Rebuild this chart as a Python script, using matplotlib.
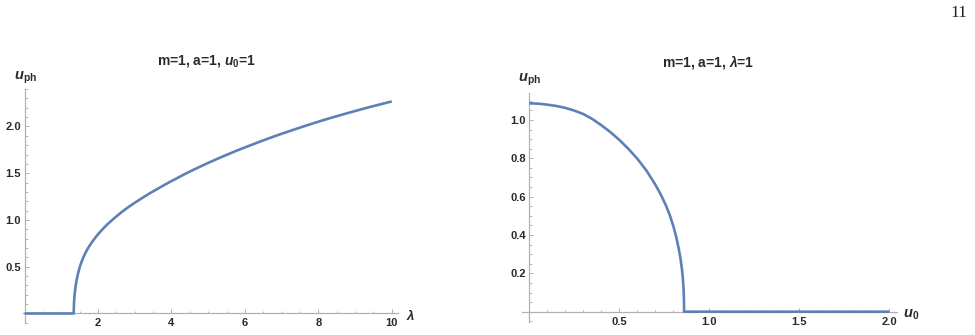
import numpy as np
import matplotlib

matplotlib.use("Agg")

import matplotlib.pyplot as plt
from matplotlib.ticker import FixedLocator

plt.rcParams["font.family"] = ["Liberation Sans", "DejaVu Sans"]
plt.rcParams["mathtext.fontset"] = "custom"
plt.rcParams["mathtext.rm"] = "Liberation Sans"
plt.rcParams["mathtext.bf"] = "Liberation Sans:bold"
plt.rcParams["mathtext.it"] = "Liberation Sans:italic"
plt.rcParams["mathtext.bfit"] = "Liberation Sans:bold:italic"

# left panel: u_ph vs lambda (m=1, a=1, u0=1)
lam = [0.0, 1.34, 1.341, 1.345, 1.35, 1.36, 1.37, 1.385, 1.40, 1.42, 1.445,
       1.475, 1.51, 1.55, 1.60, 1.65, 1.70, 1.76, 1.83, 1.90, 1.98, 2.06, 2.15,
       2.25, 2.35, 2.5, 2.65, 2.8, 3.0, 3.2, 3.4, 3.6, 3.8, 4.0, 4.2, 4.4, 4.6,
       4.8, 5.0, 5.25, 5.5, 5.75, 6.0, 6.25, 6.5, 6.75, 7.0, 7.25, 7.5, 7.75,
       8.0, 8.25, 8.5, 8.75, 9.0, 9.25, 9.5, 9.75, 10.0]
u_lam = [0.0, 0.0, 0.045, 0.095, 0.134, 0.188, 0.229, 0.277, 0.316, 0.361, 0.409,
         0.457, 0.504, 0.550, 0.599, 0.641, 0.679, 0.718, 0.759, 0.797, 0.837, 0.873,
         0.912, 0.951, 0.987, 1.038, 1.086, 1.130, 1.184, 1.234, 1.283, 1.328, 1.373,
         1.416, 1.457, 1.498, 1.537, 1.574, 1.610, 1.654, 1.696, 1.737, 1.776, 1.814,
         1.851, 1.887, 1.922, 1.955, 1.988, 2.020, 2.051, 2.081, 2.110, 2.138, 2.165,
         2.192, 2.218, 2.243, 2.268]

# right panel: u_ph vs u0 (m=1, a=1, lambda=1)
u0 = [0.0, 0.05, 0.1, 0.15, 0.2, 0.25, 0.3, 0.35, 0.4, 0.45, 0.5, 0.55, 0.6,
      0.65, 0.7, 0.73, 0.76, 0.78, 0.8, 0.815, 0.83, 0.84, 0.848, 0.853, 0.857,
      0.859, 0.86, 2.0]
u_u0 = [1.087, 1.085, 1.080, 1.073, 1.063, 1.049, 1.031, 1.005, 0.973, 0.937,
        0.896, 0.85, 0.798, 0.737, 0.663, 0.612, 0.552, 0.505, 0.447, 0.395, 0.330,
        0.277, 0.222, 0.175, 0.12, 0.07, 0.0, 0.0]

line_color = "#5e81b5"
axis_color = "#b0b0b0"
label_color = "#2a2a2a"

W, H = 975, 335


def mathematica_axes(ax, xlim, ylim, xbounds, ybounds, xmajor, xminor, ymajor, yminor):
    ax.set_xlim(*xlim)
    ax.set_ylim(*ylim)
    for side in ("top", "right"):
        ax.spines[side].set_visible(False)
    ax.spines["left"].set_position(("data", 0))
    ax.spines["bottom"].set_position(("data", 0))
    ax.spines["left"].set_bounds(*ybounds)
    ax.spines["bottom"].set_bounds(*xbounds)
    for side in ("left", "bottom"):
        ax.spines[side].set_color(axis_color)
        ax.spines[side].set_linewidth(0.9)
    ax.xaxis.set_major_locator(FixedLocator(xmajor))
    ax.xaxis.set_minor_locator(FixedLocator(xminor))
    ax.yaxis.set_major_locator(FixedLocator(ymajor))
    ax.yaxis.set_minor_locator(FixedLocator(yminor))
    ax.tick_params(which="major", direction="in", length=3.2, width=0.7, color=axis_color,
                   labelsize=8, labelcolor=label_color)
    ax.tick_params(which="minor", direction="in", length=1.8, width=0.6, color=axis_color)
    ax.tick_params(axis="x", which="major", pad=3.5)
    ax.tick_params(axis="y", which="major", pad=2.5)
    for lab in ax.get_xticklabels() + ax.get_yticklabels():
        lab.set_fontweight("bold")
    ax.patch.set_alpha(0)


fig = plt.figure(figsize=(W / 100, H / 100), dpi=100)

ax1 = fig.add_axes([17.2 / W, (H - 324.7) / H, 385.6 / W, 237.5 / H])
ax1.plot(lam, u_lam, color=line_color, linewidth=1.9, zorder=3, clip_on=False,
         solid_capstyle="butt", solid_joinstyle="round")
mathematica_axes(ax1, (-0.2, 10.3), (-0.12, 2.42), (-0.04, 10.17), (-0.1, 2.40),
                 [2, 4, 6, 8, 10], np.arange(0.5, 10.01, 0.5),
                 [0.5, 1.0, 1.5, 2.0], np.arange(-0.1, 2.41, 0.1))
ax1.xaxis.set_major_formatter(lambda v, p: f"{v:.0f}")
ax1.yaxis.set_major_formatter(lambda v, p: f"{v:.1f}")
ax1.text(0.03, 2.52, r"$\mathbfit{u}_{\mathbf{ph}}$", fontsize=10.5, ha="center", va="center",
         color=label_color, clip_on=False)
ax1.text(10.52, -0.02, r"$\mathbfit{\lambda}$", fontsize=9.5, ha="center", va="center",
         color=label_color, clip_on=False)

ax2 = fig.add_axes([518.5 / W, (H - 325.1) / H, 381.6 / W, 235.8 / H])
ax2.plot(u0, u_u0, color=line_color, linewidth=1.9, zorder=3, clip_on=False,
         solid_capstyle="butt", solid_joinstyle="round")
mathematica_axes(ax2, (-0.06, 2.06), (-0.07, 1.16), (-0.04, 2.04), (-0.055, 1.14),
                 [0.5, 1.0, 1.5, 2.0], np.arange(0.1, 2.01, 0.1),
                 [0.2, 0.4, 0.6, 0.8, 1.0], np.arange(-0.05, 1.141, 0.05))
ax2.xaxis.set_major_formatter(lambda v, p: f"{v:.1f}")
ax2.yaxis.set_major_formatter(lambda v, p: f"{v:.1f}")
ax2.text(0.0, 1.21, r"$\mathbfit{u}_{\mathbf{ph}}$", fontsize=10.5, ha="center", va="center",
         color=label_color, clip_on=False)
ax2.text(2.124, -0.015, r"$\mathbfit{u}_{\mathbf{0}}$", fontsize=10.5, ha="center", va="center",
         color=label_color, clip_on=False)

# panel titles
fig.text(207 / W, 1 - 61 / H, r"m=1, a=1, $\mathbfit{u}_{\mathbf{0}}$=1", fontsize=10,
         fontweight="bold", ha="center", va="center", color=label_color)
fig.text(708.5 / W, 1 - 62 / H, r"m=1, a=1, $\mathbfit{\lambda}$=1", fontsize=10,
         fontweight="bold", ha="center", va="center", color=label_color)

# page number
fig.text(959 / W, 1 - 13 / H, "11", fontsize=12.5, family="Liberation Serif",
         ha="center", va="center", color="#222222")

fig.savefig("out.png", dpi=100)
plt.close(fig)
